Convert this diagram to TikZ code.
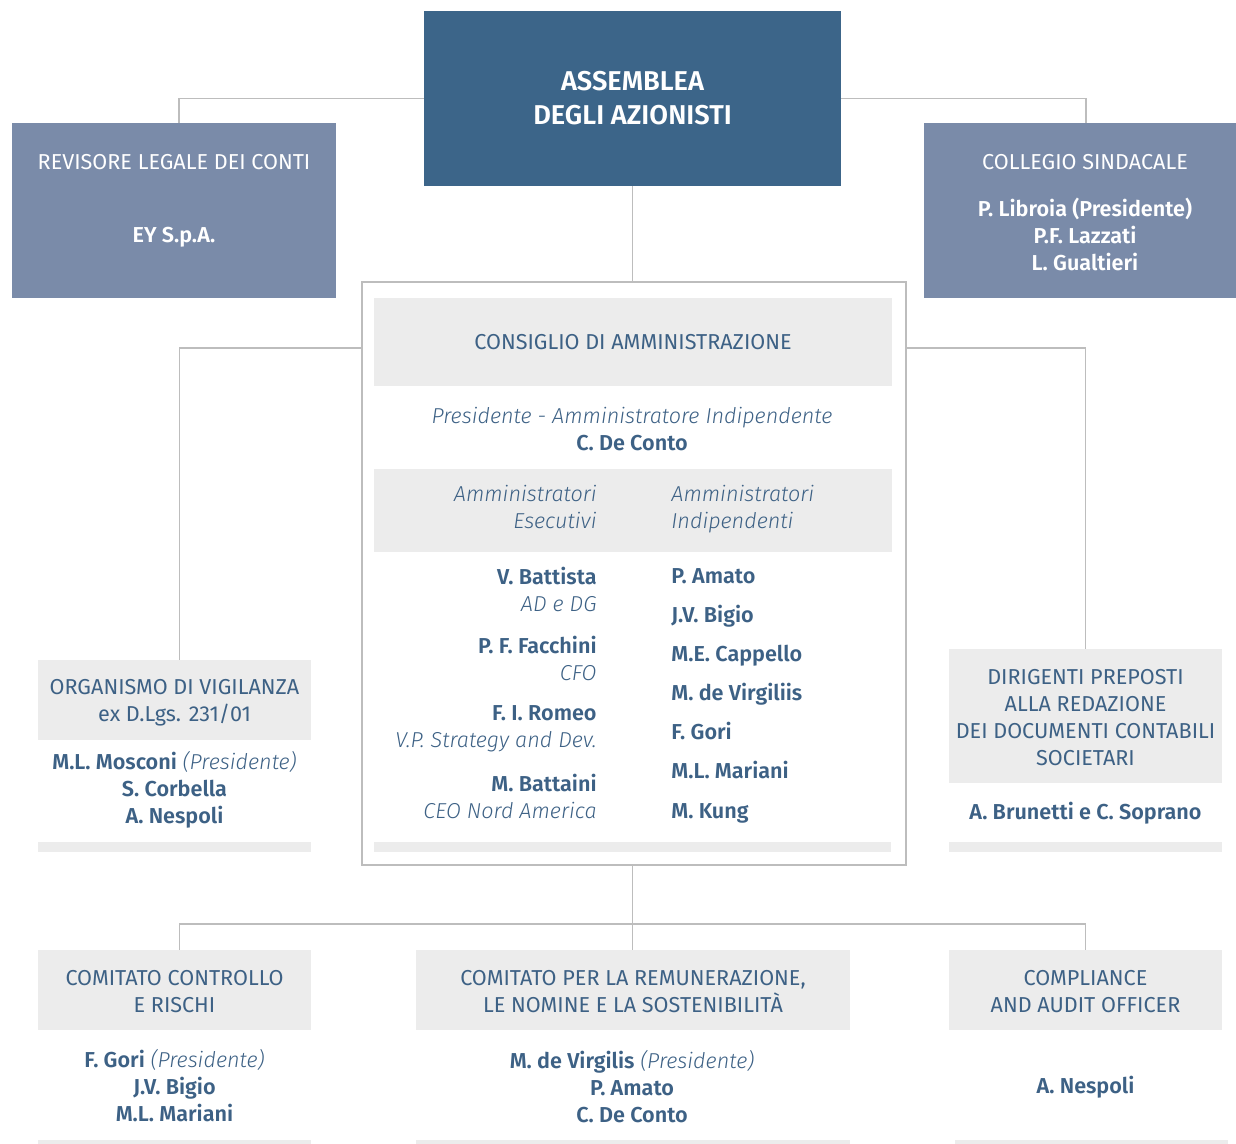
\documentclass[tikz,border=0pt]{standalone}
\usepackage{fontspec}
\setmainfont{Fira Sans}[ItalicFont=* Light Italic, BoldFont=* SemiBold, BoldItalicFont=* SemiBold Italic]
\usepackage{xcolor}
\usepackage{tikz}
\usetikzlibrary{positioning,calc}

\definecolor{assblue}{HTML}{3C6589}
\definecolor{boxblue}{HTML}{7A8BA9}
\definecolor{txtblue}{HTML}{3D6185}
\definecolor{boxgrey}{HTML}{ECECEC}
\definecolor{linegrey}{HTML}{BDBDBD}

\begin{document}
\begin{tikzpicture}[
    x=0.5pt, y=-0.5pt,
    every node/.style={inner sep=0pt, text=txtblue, font=\fontsize{10.8}{13.5}\selectfont},
    topbox/.style={rectangle, fill=assblue, text=white, align=center, minimum width=208.5pt, minimum height=87.5pt, font=\fontsize{13.6}{17}\selectfont\bfseries},
    sidebox/.style={rectangle, fill=boxblue, minimum height=87.5pt},
    sidetext/.style={text=white, align=center},
    headbox/.style={rectangle, fill=boxgrey, align=center},
    greybar/.style={fill=boxgrey},
    person/.style={align=center, font=\fontsize{10.8}{13.5}\selectfont\bfseries},
    conn/.style={draw=linegrey, line width=0.9pt}
]
    \useasboundingbox (0,0) rectangle (1236,1144);

    % vertice
    \node [topbox] (assemblea) at (632.5,98.5) {ASSEMBLEA\\DEGLI AZIONISTI};

    \node [sidebox, minimum width=162pt] (revisore) at (174,210.5) {};
    \node [sidetext] (revtitle) at (174,162) {REVISORE LEGALE DEI CONTI};
    \node [person, sidetext] (revname) at (174,237) {EY S.p.A.};

    \node [sidebox, minimum width=156pt] (collegio) at (1080,210.5) {};
    \node [sidetext] (coltitle) at (1085,162) {COLLEGIO SINDACALE};
    \node [person, sidetext] (colnames) at (1085,234) {P. Libroia (Presidente)\\P.F. Lazzati\\L. Gualtieri};

    % consiglio
    \node [rectangle, draw=linegrey, line width=0.9pt, minimum width=272pt, minimum height=291.5pt] (cda) at (634,573.5) {};
    \node [headbox, minimum width=259pt, minimum height=44pt] (cdahead) at (633,342) {CONSIGLIO DI AMMINISTRAZIONE};
    \node [align=center] (presidente) at (632,429.5) {\textit{Presidente - Amministratore Indipendente}\\\textbf{C. De Conto}};

    \node [rectangle, fill=boxgrey, minimum width=259pt, minimum height=41.5pt] (band) at (633,510.5) {};
    \node [align=right, anchor=east, font=\fontsize{10.8}{13.5}\selectfont\itshape] (esecutivi) at (597,506.5) {Amministratori\\Esecutivi};
    \node [align=left, anchor=west, font=\fontsize{10.8}{13.5}\selectfont\itshape] (indipendenti) at (671,509.5) {Amministratori\\Indipendenti};

    \node [align=right, anchor=east] (battista) at (597,589.5) {\textbf{V. Battista}\\\textit{AD e DG}};
    \node [align=right, anchor=east] (facchini) at (597,658.5) {\textbf{P. F. Facchini}\\\textit{CFO}};
    \node [align=right, anchor=east] (romeo) at (597,728.5) {\textbf{F. I. Romeo}\\\textit{V.P. Strategy and Dev.}};
    \node [align=right, anchor=east] (battaini) at (597,796.5) {\textbf{M. Battaini}\\\textit{CEO Nord America}};

    \node [person, anchor=base west] (amato) at (671,583.5) {P. Amato};
    \node [person, anchor=base west] (bigio) at (671,622.5) {J.V. Bigio};
    \node [person, anchor=base west] (cappello) at (671,661.5) {M.E. Cappello};
    \node [person, anchor=base west] (virgiliis) at (671,700.5) {M. de Virgiliis};
    \node [person, anchor=base west] (gori) at (671,739.5) {F. Gori};
    \node [person, anchor=base west] (mariani) at (671,778.5) {M.L. Mariani};
    \node [person, anchor=base west] (kung) at (671,818.5) {M. Kung};

    \fill [greybar] (374,842) rectangle (891,852);

    % organismo di vigilanza
    \node [headbox, minimum width=136.5pt, minimum height=40pt] (odv) at (174.5,700) {};
    \node [align=center] (odvtitle) at (174.5,702.5) {ORGANISMO DI VIGILANZA\\ex D.Lgs. 231/01};
    \node [align=center] (odvnames) at (174.5,790) {\textbf{M.L. Mosconi} \textit{(Presidente)}\\\textbf{S. Corbella}\\\textbf{A. Nespoli}};
    \fill [greybar] (38,842) rectangle (311,852);

    % dirigenti preposti
    \node [headbox, minimum width=136.5pt, minimum height=67pt] (dirigenti) at (1085.5,716) {};
    \node [align=center] (dirtitle) at (1085.5,718) {DIRIGENTI PREPOSTI\\ALLA REDAZIONE\\DEI DOCUMENTI CONTABILI\\SOCIETARI};
    \node [person] (dirnames) at (1085.5,813) {A. Brunetti e C. Soprano};
    \fill [greybar] (949,842) rectangle (1222,852);

    % comitati
    \node [headbox, minimum width=136.5pt, minimum height=40pt] (ccr) at (174.5,990) {};
    \node [align=center] (ccrtitle) at (174.5,992) {COMITATO CONTROLLO\\E RISCHI};
    \node [align=center] (ccrnames) at (174.5,1086) {\textbf{F. Gori} \textit{(Presidente)}\\\textbf{J.V. Bigio}\\\textbf{M.L. Mariani}};
    \fill [greybar] (38,1140) rectangle (311,1144);

    \node [headbox, minimum width=217pt, minimum height=40pt] (remun) at (633,990) {};
    \node [align=center] (remtitle) at (633,992) {COMITATO PER LA REMUNERAZIONE,\\LE NOMINE E LA SOSTENIBILITÀ};
    \node [align=center] (remnames) at (632,1087) {\textbf{M. de Virgilis} \textit{(Presidente)}\\\textbf{P. Amato}\\\textbf{C. De Conto}};
    \fill [greybar] (416,1140) rectangle (850,1144);

    \node [headbox, minimum width=136.5pt, minimum height=40pt] (compl) at (1085.5,990) {};
    \node [align=center] (compltitle) at (1085.5,992) {COMPLIANCE\\AND AUDIT OFFICER};
    \node [person] (complname) at (1085.5,1087) {A. Nespoli};
    \fill [greybar] (955,1140) rectangle (1228,1144);

    % linee
    \draw [conn] (assemblea.west) -| ([xshift=2.5pt]revisore.north);
    \draw [conn] (assemblea.east) -| ([xshift=3pt]collegio.north);
    \draw [conn] (assemblea.south) -- (assemblea.south |- cda.north);
    \draw [conn] ($(cda.west |- cdahead.center)+(0,6)$) -| ([xshift=2.5pt]odv.north);
    \draw [conn] ($(cda.east |- cdahead.center)+(0,6)$) -| (dirigenti.north);
    \draw [conn] (cda.south -| assemblea.south) -- (remun.north -| assemblea.south);
    \coordinate (bus) at (632,924);
    \draw [conn] ([xshift=2.5pt]ccr.north) |- (bus) -| (compl.north);

\end{tikzpicture}
\end{document}
